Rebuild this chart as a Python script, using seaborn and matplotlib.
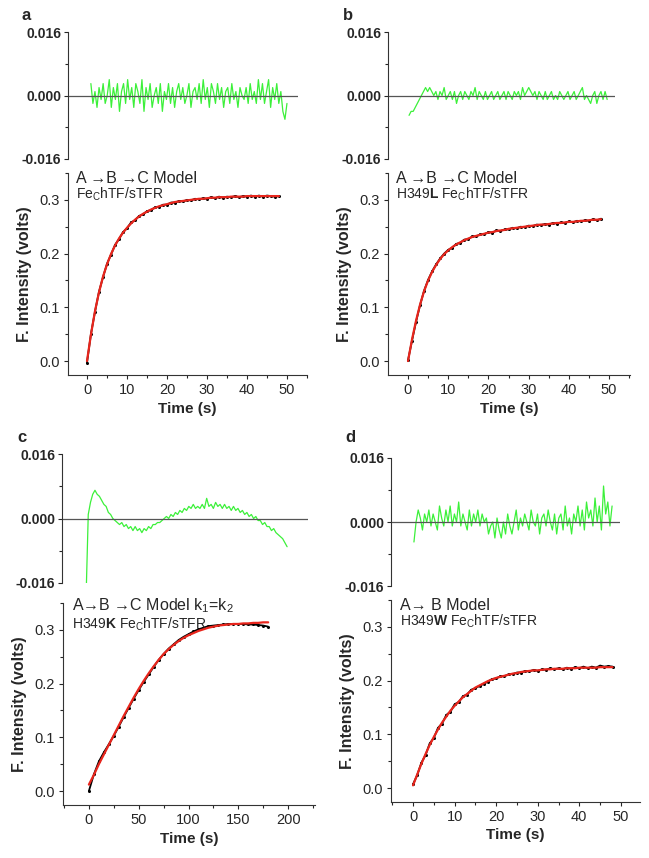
import numpy as np
import seaborn as sns
import matplotlib.pyplot as plt
from matplotlib.ticker import MultipleLocator, FormatStrFormatter

sns.set_style("ticks")
plt.rcParams['font.family'] = ['Liberation Sans', 'DejaVu Sans']
plt.rcParams['mathtext.fontset'] = 'custom'
plt.rcParams['mathtext.rm'] = 'Liberation Sans'
plt.rcParams['mathtext.bf'] = 'Liberation Sans:bold'

# ---- data ----
# residuals (x1e-3 volts)
res_a = [3, -2, 1, -3, 2, -1, 3, -2, 0, 4, -3, 2, -1, 3, -4, 1, 3, -2, 4, -1, 2, -3, 3, 1,
         -2, 4, -4, 2, -1, 3, -3, 0, 2, -2, 3, -4, 1, -1, 3, -2, 2, -3, 1, 3, -1, 2, -2, 0,
         3, -3, 1, 2, -1, 3, -2, 4, -1, 2, -3, 3, 1, -2, 3, -1, 2, -3, 1, 2, -2, 3, -1, 1,
         -3, 2, 0, -1, 2, -2, 3, -1, 1, -2, 4, -1, 3, -2, 1, 4, -3, 2, -1, 3, -2, 1, -4, -6, -2]
res_b = [-5, -4, -4, -3, -2, -1, 0, 1, 2, 1, 2, 1, 0, 1, -1, 1, 0, 2, -1, 0, 1, -1, 1, -2,
         0, 1, -1, 1, 0, -1, 1, 0, 2, -1, 1, 0, -1, 1, -1, 0, 1, -1, 0, 1, -1, 0, 1, -1,
         1, 0, -1, 1, 0, 1, -1, 2, 0, 1, 2, 1, 0, 1, -1, 1, 0, -1, 1, -1, 0, 1, -1, 0,
         -1, 1, 0, -1, 0, 1, -1, 0, 1, -1, 0, 1, 2, -1, 0, -1, -2, 0, 1, -2, 0, 1, -1, 1, -1]
res_c = [-20, 1, 4, 6, 7, 6, 5.5, 4.5, 3.5, 3, 1.5, 1, 0, -0.5, -1, -1.5, -1, -2, -1.5, -2.5,
         -2, -3, -2, -3, -2.5, -3.5, -2.5, -3, -2, -2.5, -1.5, -1.5, -1, -1, -0.5, 0, 0.5, 0, 1, 0.5,
         1.5, 1, 2, 1.5, 2.5, 2, 3, 2.5, 3.5, 2.5, 3, 2.5, 3.5, 2.5, 5, 3, 3.5, 2.5, 4, 3,
         3.5, 2.5, 3.5, 2.5, 3, 2, 3, 2, 2.5, 1.5, 2, 1, 1.5, 0.5, 1, 0, 0.5, -0.5, -0.5, -1.5,
         -1, -2, -2, -3, -2.5, -3.5, -4, -4.5, -5, -6, -7]
res_d = [-5, 0, 3, 1, -2, 2, 0, 3, -1, 2, 0, -2, 4, 1, -1, 3, 0, 4, -1, 2, 0, 5, -1, 2,
         0, -2, 3, -1, 2, 0, 3, -1, 2, 0, 1, -3, -1, 0, -4, 1, -2, -4, 0, -3, 2, -1, -3, 0,
         3, -2, 1, -1, 2, 0, -2, 3, 0, -1, 2, -3, 1, 2, -1, 3, 0, -2, 2, -3, 1, 2, -2, 4,
         -1, 1, -3, 2, 0, 4, -1, 3, -2, 5, 1, 3, -1, 6, 0, 4, -2, 9, 2, 5, -1, 4]

# fluorescence traces (volts), 1 s steps for a, b, d and 5 s steps for c
fit_a = [0.0, 0.05, 0.093, 0.128, 0.157, 0.18, 0.199, 0.215, 0.228, 0.239, 0.248, 0.256, 0.263,
         0.269, 0.274, 0.278, 0.282, 0.285, 0.288, 0.29, 0.292, 0.294, 0.296, 0.297, 0.298,
         0.299, 0.3, 0.301, 0.302, 0.302, 0.303, 0.304, 0.304, 0.305, 0.305, 0.305, 0.306,
         0.306, 0.306, 0.306, 0.307, 0.307, 0.307, 0.307, 0.307, 0.307, 0.307, 0.307, 0.307]
obs_a = [-0.003, 0.051, 0.092, 0.129, 0.156, 0.181, 0.198, 0.216, 0.227, 0.24, 0.247, 0.258, 0.262,
         0.27, 0.273, 0.279, 0.281, 0.286, 0.287, 0.291, 0.291, 0.295, 0.295, 0.298, 0.297,
         0.3, 0.299, 0.302, 0.301, 0.303, 0.302, 0.305, 0.303, 0.306, 0.304, 0.306, 0.305,
         0.307, 0.305, 0.307, 0.306, 0.308, 0.306, 0.308, 0.306, 0.308, 0.307, 0.306, 0.307]
fit_b = [0.0, 0.04, 0.075, 0.105, 0.13, 0.15, 0.166, 0.179, 0.19, 0.199, 0.206, 0.212, 0.217,
         0.221, 0.225, 0.228, 0.231, 0.233, 0.235, 0.237, 0.239, 0.24, 0.242, 0.243, 0.244,
         0.246, 0.247, 0.248, 0.249, 0.25, 0.251, 0.252, 0.253, 0.254, 0.254, 0.255, 0.256,
         0.257, 0.257, 0.258, 0.259, 0.259, 0.26, 0.261, 0.261, 0.262, 0.263, 0.263, 0.264]
obs_b = [0.001, 0.038, 0.073, 0.104, 0.131, 0.151, 0.167, 0.18, 0.191, 0.2, 0.207, 0.211, 0.218,
         0.22, 0.226, 0.227, 0.232, 0.232, 0.236, 0.236, 0.24, 0.239, 0.243, 0.242, 0.245,
         0.245, 0.248, 0.247, 0.25, 0.249, 0.252, 0.251, 0.254, 0.253, 0.255, 0.254, 0.257,
         0.256, 0.258, 0.257, 0.26, 0.258, 0.261, 0.26, 0.262, 0.261, 0.264, 0.262, 0.265]
fit_c = [0.012, 0.03, 0.05, 0.068, 0.086, 0.104, 0.122, 0.14, 0.157, 0.174, 0.19, 0.205, 0.219,
         0.232, 0.244, 0.255, 0.264, 0.272, 0.279, 0.285, 0.29, 0.294, 0.298, 0.301, 0.304,
         0.306, 0.308, 0.309, 0.31, 0.311, 0.311, 0.312, 0.312, 0.313, 0.313, 0.314, 0.314]
obs_c = [0.0, 0.031, 0.055, 0.072, 0.087, 0.103, 0.12, 0.138, 0.155, 0.172, 0.188, 0.203, 0.217,
         0.231, 0.244, 0.255, 0.265, 0.273, 0.281, 0.287, 0.292, 0.297, 0.301, 0.304, 0.307,
         0.308, 0.309, 0.31, 0.311, 0.311, 0.311, 0.311, 0.31, 0.31, 0.309, 0.308, 0.306]
fit_d = [0.005, 0.025, 0.045, 0.063, 0.08, 0.095, 0.109, 0.122, 0.133, 0.144, 0.153, 0.161, 0.169,
         0.175, 0.181, 0.187, 0.191, 0.195, 0.199, 0.202, 0.205, 0.207, 0.209, 0.211, 0.213,
         0.214, 0.216, 0.217, 0.218, 0.219, 0.219, 0.22, 0.221, 0.221, 0.222, 0.222, 0.222,
         0.223, 0.223, 0.223, 0.224, 0.224, 0.224, 0.224, 0.224, 0.225, 0.225, 0.225, 0.225]
obs_d = [0.007, 0.024, 0.047, 0.061, 0.083, 0.093, 0.112, 0.12, 0.136, 0.142, 0.156, 0.16, 0.171,
         0.174, 0.183, 0.186, 0.19, 0.194, 0.198, 0.203, 0.204, 0.208, 0.208, 0.212, 0.212,
         0.215, 0.215, 0.218, 0.217, 0.22, 0.218, 0.221, 0.22, 0.223, 0.221, 0.223, 0.221,
         0.224, 0.222, 0.225, 0.223, 0.226, 0.223, 0.226, 0.224, 0.228, 0.226, 0.227, 0.226]

t_1s = np.arange(0, 49, 1.0)
t_5s = np.arange(0, 181, 5.0)

titles = ["A \u2192B \u2192C Model", "A \u2192B \u2192C Model",
          "A\u2192B \u2192C Model k$_1$=k$_2$", "A\u2192 B Model"]
subtitles = ["Fe$_\\mathrm{C}$hTF/sTFR", "H349$\\mathbf{L}$ Fe$_\\mathrm{C}$hTF/sTFR",
             "H349$\\mathbf{K}$ Fe$_\\mathrm{C}$hTF/sTFR", "H349$\\mathbf{W}$ Fe$_\\mathrm{C}$hTF/sTFR"]
letters = ["a", "b", "c", "d"]

W, H = 649, 858
fig = plt.figure(figsize=(W / 100, H / 100), dpi=100)


def box(l, t, r, b):
    return [l / W, 1 - b / H, (r - l) / W, (b - t) / H]


panels = [
    dict(res=res_a, rt=(0, 48), rbox=(68, 32, 298, 159), rx=(-5.6, 50.7),
         fit=fit_a, obs=obs_a, t=t_1s, mbox=(68, 173, 307, 375), mx=(-4.75, 55),
         xt=(50, 10), let=(22, 15), ty=(0.972, 0.897)),
    dict(res=res_b, rt=(0, 48), rbox=(388, 32, 615, 159), rx=(-5.1, 49.9),
         fit=fit_b, obs=obs_b, t=t_1s, mbox=(388, 173, 630, 375), mx=(-4.97, 55.2),
         xt=(50, 10), let=(343, 15), ty=(0.972, 0.897)),
    dict(res=res_c, rt=(0, 180), rbox=(62, 454, 308, 583), rx=(-21.5, 198.7),
         fit=fit_c, obs=obs_c, t=t_5s, mbox=(63, 603, 315, 805), mx=(-26, 227),
         xt=(200, 50), let=(17, 437), ty=(0.985, 0.895)),
    dict(res=res_d, rt=(0.5, 48), rbox=(391, 458, 620, 586), rx=(-5.0, 49.9),
         fit=fit_d, obs=obs_d, t=t_1s, mbox=(391, 600, 640, 802), mx=(-5.3, 54.6),
         xt=(50, 10), let=(345, 437), ty=(0.972, 0.897)),
]

for i, p in enumerate(panels):
    # residual strip
    ax = fig.add_axes(box(*p['rbox']))
    r = np.array(p['res']) * 1e-3
    tr = np.linspace(p['rt'][0], p['rt'][1], len(r))
    sns.lineplot(x=tr, y=r, ax=ax, color='#3cf03a', lw=0.9, sort=False, estimator=None)
    ax.axhline(0, color='#555555', lw=0.9)
    ax.set_xlim(*p['rx'])
    ax.set_ylim(-0.016, 0.016)
    ax.set_yticks([-0.016, 0.0, 0.016])
    ax.yaxis.set_minor_locator(MultipleLocator(0.008))
    ax.yaxis.set_major_formatter(FormatStrFormatter('%.3f'))
    ax.tick_params(axis='y', which='major', labelsize=10, length=3, width=0.8, pad=2)
    ax.tick_params(axis='y', which='minor', length=2, width=0.8)
    for lab in ax.get_yticklabels():
        lab.set_fontweight('bold')
    ax.set_xticks([])
    for s in ['top', 'right', 'bottom']:
        ax.spines[s].set_visible(False)
    ax.spines['left'].set_linewidth(0.8)
    ax.spines['left'].set_color('#333333')
    fig.text(p['let'][0] / W, 1 - p['let'][1] / H, letters[i], fontsize=12,
             fontweight='bold', va='center', ha='left')

    # main trace
    ax = fig.add_axes(box(*p['mbox']))
    sns.lineplot(x=p['t'], y=p['obs'], ax=ax, color='black', lw=1.3, marker='o',
                 markersize=2.2, markeredgewidth=0, sort=False, estimator=None)
    sns.lineplot(x=p['t'], y=p['fit'], ax=ax, color='#e8251c', lw=1.6, sort=False,
                 estimator=None)
    ax.set_xlim(*p['mx'])
    ax.set_ylim(-0.026, 0.35)
    ax.set_xticks(np.arange(0, p['xt'][0] + 1, p['xt'][1]))
    ax.xaxis.set_minor_locator(MultipleLocator(p['xt'][1] / 2))
    ax.set_yticks([0.0, 0.1, 0.2, 0.3])
    ax.yaxis.set_minor_locator(MultipleLocator(0.05))
    ax.yaxis.set_major_formatter(FormatStrFormatter('%.1f'))
    ax.tick_params(which='major', labelsize=10.5, length=3, width=0.8, pad=3)
    ax.tick_params(which='minor', length=2, width=0.8)
    for s in ['top', 'right']:
        ax.spines[s].set_visible(False)
    for s in ['left', 'bottom']:
        ax.spines[s].set_linewidth(0.8)
        ax.spines[s].set_color('#333333')
    ax.set_xlabel("Time (s)", fontsize=11, fontweight='bold', labelpad=3)
    ax.set_ylabel("F. Intensity (volts)", fontsize=11.5, fontweight='bold', labelpad=5)
    ax.text(0.035, p['ty'][0], titles[i], transform=ax.transAxes, fontsize=11.5, va='center')
    ax.text(0.035, p['ty'][1], subtitles[i], transform=ax.transAxes, fontsize=10, va='center')

fig.savefig('out.png', dpi=100)
